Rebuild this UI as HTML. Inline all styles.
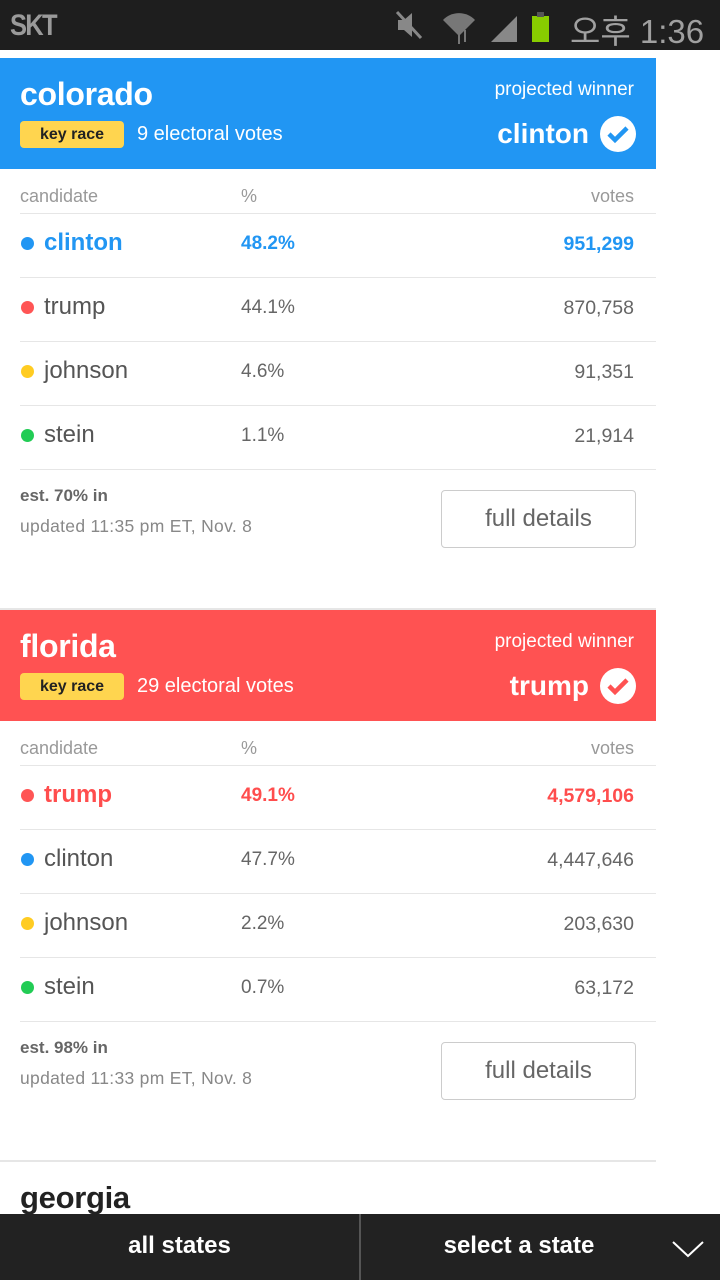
<!DOCTYPE html>
<html><head><meta charset="utf-8"><style>
*{margin:0;padding:0;box-sizing:border-box}
body{width:720px;height:1280px;position:relative;overflow:hidden;background:#fff;font-family:"Liberation Sans","Noto Sans CJK KR",sans-serif}
.a{position:absolute;white-space:nowrap}
.status{left:0;top:0;width:720px;height:50px;background:#1e1e1e}
.hdr{left:0;width:656px;height:111px}
.st{left:20px;font-size:32px;font-weight:bold;color:#fff;letter-spacing:-0.3px}
.kr{left:20px;width:104px;height:27px;background:#ffd54f;border-radius:4px;font-size:16px;font-weight:bold;color:#222;text-align:center;line-height:27px}
.ev{left:137px;font-size:20px;color:#fff}
.pw{font-size:19px;color:#fff;text-align:right}
.wn{font-size:28px;font-weight:bold;color:#fff}
.th{font-size:18px;color:#999}
.ln{left:20px;width:636px;height:1px;background:#e6e6e6}
.dot{left:21px;width:13px;height:13px;border-radius:50%}
.nm{left:44px;font-size:24px;color:#555}
.pc{left:241px;font-size:19px;color:#666}
.vt{right:86px;font-size:19.5px;color:#666}
.est{left:20px;font-size:17px;font-weight:bold;color:#666}
.up{left:20px;font-size:17.5px;color:#888;letter-spacing:0.3px}
.btn{left:441px;width:195px;height:58px;border:1.5px solid #ccc;border-radius:4px;font-size:24px;color:#666;text-align:center;line-height:55px}
</style></head><body>
<div class="a status">
 <div class="a" style="left:10px;top:9px;font-size:30px;font-weight:bold;color:#9a9a9a;letter-spacing:-2px;transform:scaleX(0.85);transform-origin:left">SKT</div>
 <svg class="a" style="left:395px;top:8px" width="180" height="36">
  <path d="M3 12h6l8-7v24l-8-7H3z" fill="#888"/><line x1="2" y1="4" x2="26" y2="30" stroke="#888" stroke-width="3"/>
  <path d="M48 12a22 22 0 0 1 32 0l-16 16z" fill="#777"/><path d="M64 24v12M70 22v12" stroke="#777" stroke-width="2"/>
  <path d="M96 34L122 8v26z" fill="#888"/>
  <rect x="137" y="8" width="17" height="26" fill="#8c0"/><rect x="142" y="4" width="7" height="5" fill="#555"/>
 </svg>
 <div class="a" style="left:570px;top:5px;font-size:33px;color:#a0a0a0">오후 1:36</div>
</div>

<!-- Colorado -->
<div class="a hdr" style="top:58px;background:#2196f3">
 <div class="a st" style="top:18px">colorado</div>
 <div class="a kr" style="top:63px">key race</div>
 <div class="a ev" style="top:65px">9 electoral votes</div>
 <div class="a pw" style="top:21px;right:22px">projected winner</div>
 <div class="a wn" style="top:60px;right:67px">clinton</div>
 <svg class="a" style="left:600px;top:58px" width="36" height="36"><circle cx="18" cy="18" r="18" fill="#fff"/><path d="M9 18l6 6 12-12" stroke="#2196f3" stroke-width="4.5" fill="none"/></svg>
</div>
<div class="a th" style="left:20px;top:186px">candidate</div>
<div class="a th" style="left:241px;top:186px">%</div>
<div class="a th" style="right:86px;top:186px">votes</div>
<div class="a ln" style="top:213px"></div>
<div class="a dot" style="top:237px;background:#2196f3"></div><div class="a nm" style="top:229px;color:#2196f3;font-weight:bold">clinton</div><div class="a pc" style="top:233px;color:#2196f3;font-weight:bold">48.2%</div><div class="a vt" style="top:233px;color:#2196f3;font-weight:bold">951,299</div>
<div class="a ln" style="top:277px"></div>
<div class="a dot" style="top:301px;background:#f55"></div><div class="a nm" style="top:293px">trump</div><div class="a pc" style="top:297px">44.1%</div><div class="a vt" style="top:297px">870,758</div>
<div class="a ln" style="top:341px"></div>
<div class="a dot" style="top:365px;background:#fc2"></div><div class="a nm" style="top:357px">johnson</div><div class="a pc" style="top:361px">4.6%</div><div class="a vt" style="top:361px">91,351</div>
<div class="a ln" style="top:405px"></div>
<div class="a dot" style="top:429px;background:#2c5"></div><div class="a nm" style="top:421px">stein</div><div class="a pc" style="top:425px">1.1%</div><div class="a vt" style="top:425px">21,914</div>
<div class="a ln" style="top:469px"></div>
<div class="a est" style="top:486px">est. 70% in</div>
<div class="a up" style="top:516px">updated 11:35 pm ET, Nov. 8</div>
<div class="a btn" style="top:490px">full details</div>
<div class="a ln" style="top:608px;left:0;width:656px;height:2px"></div>

<!-- Florida -->
<div class="a hdr" style="top:610px;background:#ff5252">
 <div class="a st" style="top:18px">florida</div>
 <div class="a kr" style="top:63px">key race</div>
 <div class="a ev" style="top:65px">29 electoral votes</div>
 <div class="a pw" style="top:21px;right:22px">projected winner</div>
 <div class="a wn" style="top:60px;right:67px">trump</div>
 <svg class="a" style="left:600px;top:58px" width="36" height="36"><circle cx="18" cy="18" r="18" fill="#fff"/><path d="M9 18l6 6 12-12" stroke="#ff5252" stroke-width="4.5" fill="none"/></svg>
</div>
<div class="a th" style="left:20px;top:738px">candidate</div>
<div class="a th" style="left:241px;top:738px">%</div>
<div class="a th" style="right:86px;top:738px">votes</div>
<div class="a ln" style="top:765px"></div>
<div class="a dot" style="top:789px;background:#f55"></div><div class="a nm" style="top:781px;color:#ff4d4d;font-weight:bold">trump</div><div class="a pc" style="top:785px;color:#ff4d4d;font-weight:bold">49.1%</div><div class="a vt" style="top:785px;color:#ff4d4d;font-weight:bold">4,579,106</div>
<div class="a ln" style="top:829px"></div>
<div class="a dot" style="top:853px;background:#2196f3"></div><div class="a nm" style="top:845px">clinton</div><div class="a pc" style="top:849px">47.7%</div><div class="a vt" style="top:849px">4,447,646</div>
<div class="a ln" style="top:893px"></div>
<div class="a dot" style="top:917px;background:#fc2"></div><div class="a nm" style="top:909px">johnson</div><div class="a pc" style="top:913px">2.2%</div><div class="a vt" style="top:913px">203,630</div>
<div class="a ln" style="top:957px"></div>
<div class="a dot" style="top:981px;background:#2c5"></div><div class="a nm" style="top:973px">stein</div><div class="a pc" style="top:977px">0.7%</div><div class="a vt" style="top:977px">63,172</div>
<div class="a ln" style="top:1021px"></div>
<div class="a est" style="top:1038px">est. 98% in</div>
<div class="a up" style="top:1068px">updated 11:33 pm ET, Nov. 8</div>
<div class="a btn" style="top:1042px">full details</div>
<div class="a ln" style="top:1160px;left:0;width:656px;height:2px"></div>
<div class="a st" style="top:1180px;color:#222;font-size:31px">georgia</div>

<!-- bottom bar -->
<div class="a" style="left:0;top:1214px;width:720px;height:66px;background:#222">
 <div class="a" style="left:0;top:0;width:359px;height:66px;line-height:64px;text-align:center;color:#fff;font-size:24px;font-weight:bold">all states</div>
 <div class="a" style="left:359px;top:0;width:2px;height:66px;background:#555"></div>
 <div class="a" style="left:361px;top:0;width:316px;height:66px;line-height:64px;text-align:center;color:#fff;font-size:24px;font-weight:bold">select a state</div>
 <svg class="a" style="left:672px;top:26px" width="32" height="18"><path d="M1 2l15 14 15-14" stroke="#fff" stroke-width="2" fill="none"/></svg>
</div>
</body></html>
